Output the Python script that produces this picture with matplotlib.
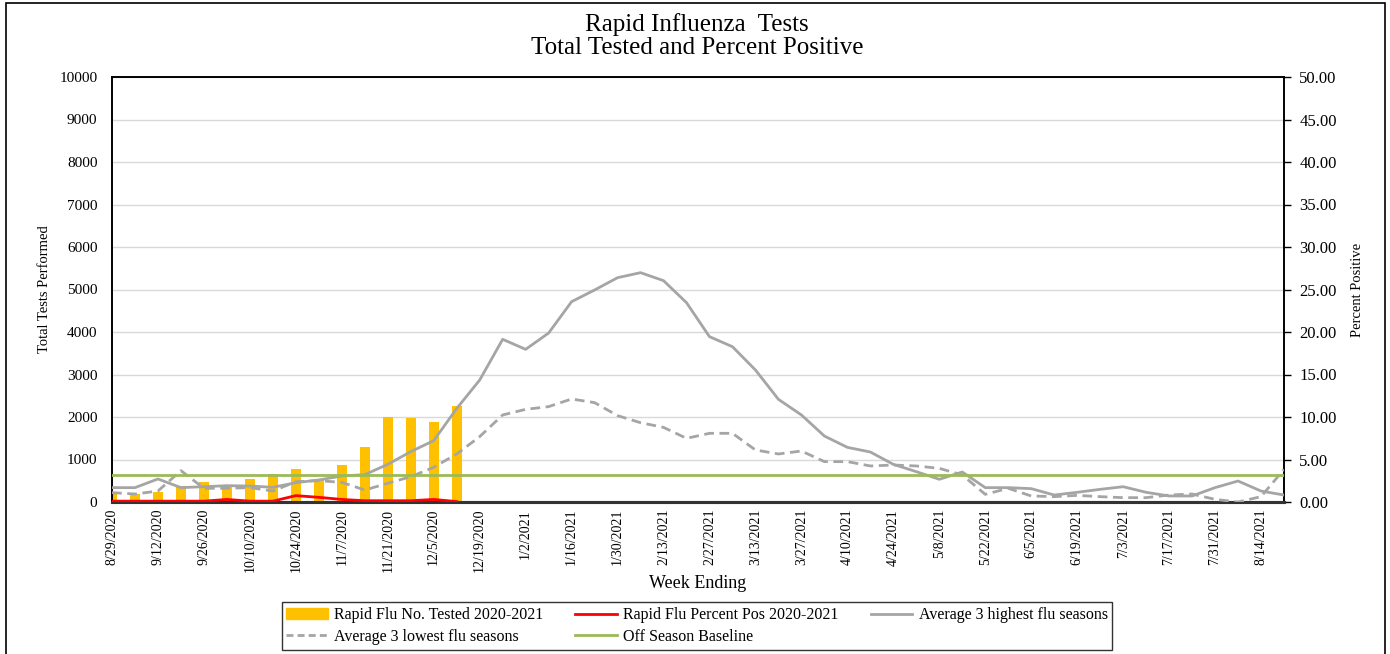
import matplotlib
matplotlib.use("Agg")
import matplotlib.pyplot as plt
from matplotlib.patches import Rectangle
from matplotlib.lines import Line2D
from matplotlib.patches import Patch

# ---- data ----
week_labels = ["8/29/2020", "9/12/2020", "9/26/2020", "10/10/2020", "10/24/2020",
               "11/7/2020", "11/21/2020", "12/5/2020", "12/19/2020", "1/2/2021",
               "1/16/2021", "1/30/2021", "2/13/2021", "2/27/2021", "3/13/2021",
               "3/27/2021", "4/10/2021", "4/24/2021", "5/8/2021", "5/22/2021",
               "6/5/2021", "6/19/2021", "7/3/2021", "7/17/2021", "7/31/2021",
               "8/14/2021"]
n_weeks = 52

tested_2020_21 = [210, 190, 240, 380, 480, 400, 530, 670, 770, 520,
                  870, 1290, 1990, 1975, 1880, 2260]

pct_pos_2020_21 = [0.1, 0.1, 0.1, 0.1, 0.1, 0.3, 0.1, 0.1, 0.75, 0.55,
                   0.3, 0.15, 0.15, 0.15, 0.3, 0.05]

avg_high = [1.69, 1.69, 2.71, 1.69, 1.80, 1.92, 1.88, 1.73, 2.27, 2.59,
            3.06, 3.22, 4.43, 5.92, 7.22, 11.0, 14.35, 19.14, 17.96, 19.88,
            23.57, 24.94, 26.39, 26.98, 26.04, 23.45, 19.45, 18.27, 15.53, 12.08,
            10.24, 7.76, 6.43, 5.88, 4.43, 3.57, 2.67, 3.53, 1.69, 1.69,
            1.57, 0.82, 1.14, 1.49, 1.80, 1.14, 0.71, 0.71, 1.69, 2.47,
            1.29, 0.82]

avg_low = [1.10, 0.94, 1.29, 3.69, 1.61, 1.61, 1.69, 1.29, 2.39, 2.51,
           2.31, 1.41, 2.20, 2.98, 4.08, 5.65, 7.69, 10.24, 10.90, 11.22,
           12.12, 11.69, 10.16, 9.33, 8.78, 7.49, 8.08, 8.08, 6.12, 5.65,
           6.00, 4.75, 4.75, 4.24, 4.35, 4.24, 3.96, 3.18, 0.90, 1.61,
           0.71, 0.63, 0.78, 0.63, 0.51, 0.51, 0.82, 0.94, 0.31, 0.0,
           0.63, 3.84]

off_season_baseline = [3.2] * n_weeks

# ---- figure ----
W, H = 1390, 654
fig = plt.figure(figsize=(W / 100, H / 100), dpi=100)
plt.rcParams['font.family'] = ['Liberation Serif', 'DejaVu Serif']

L, R, T, B = 112, 1284, 77, 502
ax = fig.add_axes([L / W, 1 - B / H, (R - L) / W, (B - T) / H])
ax2 = ax.twinx()

x_bar = list(range(len(tested_2020_21)))
ax.bar(x_bar, tested_2020_21, width=0.42, color="#FFC000", zorder=2)
ax.set_ylim(0, 10000)
ax.set_yticks(range(0, 10001, 1000))
ax.yaxis.grid(True, color="#D9D9D9", linewidth=1.0, zorder=0)
ax.set_axisbelow(True)
ax.set_xlim(0, n_weeks - 1)
ax.set_xticks(range(0, n_weeks, 2))
ax.set_xticklabels(week_labels, rotation=90, fontsize=10)
ax.tick_params(axis='x', length=0, pad=5)
ax.tick_params(axis='y', length=0, labelsize=11, pad=10.5)

xw = list(range(n_weeks))
ax2.plot(xw, avg_low, color="#A5A5A5", lw=2.0, ls=(0, (3.5, 2)), zorder=3)
ax2.plot(xw, avg_high, color="#A5A5A5", lw=2.0, zorder=3)
ax2.plot(xw, off_season_baseline, color="#9BBB59", lw=2.0, zorder=3)
ax2.plot(x_bar, pct_pos_2020_21, color="#FF0000", lw=2.0, zorder=4)
ax2.set_ylim(0, 50)
ax2.set_yticks(range(0, 51, 5))
ax2.set_yticklabels([f"{v:.2f}" for v in range(0, 51, 5)])
ax2.tick_params(axis='y', length=5, width=1, labelsize=12, pad=6)

for a in (ax, ax2):
    for s in ("left", "right", "top"):
        a.spines[s].set_color("black")
        a.spines[s].set_linewidth(1.2)
    a.spines["bottom"].set_color("#333333")
    a.spines["bottom"].set_linewidth(2.2)

ax.set_ylabel("Total Tests Performed", fontsize=10.5, labelpad=6)
ax2.set_ylabel("Percent Positive", fontsize=10.5, labelpad=10)
ax.set_xlabel("Week Ending", fontsize=13, labelpad=2)

fig.text(697 / W, 1 - 25 / H, "Rapid Influenza  Tests", ha="center", va="center", fontsize=18)
fig.text(697 / W, 1 - 48 / H, "Total Tested and Percent Positive", ha="center", va="center", fontsize=18)

handles = [
    Patch(facecolor="#FFC000", edgecolor="#FFC000"),
    Line2D([], [], color="#A5A5A5", lw=2, ls=(0, (2.5, 1.5))),
    Line2D([], [], color="#FF0000", lw=2),
    Line2D([], [], color="#9BBB59", lw=2),
    Line2D([], [], color="#A5A5A5", lw=2),
]
labels = ["Rapid Flu No. Tested 2020-2021", "Average 3 lowest flu seasons",
          "Rapid Flu Percent Pos 2020-2021", "Off Season Baseline",
          "Average 3 highest flu seasons"]
leg = fig.legend(handles, labels, ncol=3, loc="center",
                 bbox_to_anchor=(697 / W, 1 - 626 / H), fontsize=11.5,
                 frameon=True, fancybox=False, edgecolor="black",
                 handlelength=2.6, handletextpad=0.4, columnspacing=2.0,
                 labelspacing=0.35, borderpad=0.3)
leg.get_frame().set_linewidth(1.0)

fig.patches.append(Rectangle((6 / W, -0.02), (1385 - 6) / W, 1 - 3 / H + 0.02,
                             transform=fig.transFigure, fill=False,
                             edgecolor="black", linewidth=1.2))

fig.savefig("out.png", dpi=100)
